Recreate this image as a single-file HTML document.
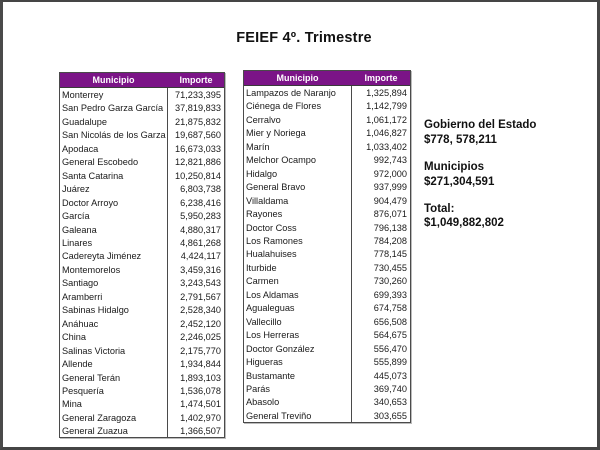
<!DOCTYPE html>
<html>
<head>
<meta charset="utf-8">
<style>
  html,body{margin:0;padding:0;}
  body{width:600px;height:450px;position:relative;overflow:hidden;background:#fff;font-family:"Liberation Sans",Arial,sans-serif;}
  .frame{position:absolute;left:0;top:0;width:600px;height:450px;box-sizing:border-box;border-top:2px solid #454545;border-left:3px solid #4a4a4a;border-right:3px solid #454545;border-bottom:3px solid #454545;}
  .title{position:absolute;left:204px;top:29px;width:200px;text-align:center;font-weight:bold;font-size:14.5px;letter-spacing:0.2px;color:#111;line-height:18px;}
  .tbl{position:absolute;border:1px solid #4a4a4a;box-shadow:1px 1px 0 #bbb;background:#fff;}
  .hdr{position:relative;height:14px;background:#7b1487;border-bottom:1px solid #3a3a3a;color:#fff;font-weight:bold;font-size:9px;line-height:14px;}
  .hdr span{position:absolute;top:0;text-align:center;}
  .div{position:absolute;top:0;bottom:0;width:1px;background:#4a4a4a;}
  .row{position:relative;height:13.46px;font-size:9.2px;line-height:13.46px;color:#1a1a1a;white-space:nowrap;}
  .row .n{position:absolute;left:2px;top:1px;}
  .row .v{position:absolute;top:1px;text-align:right;}
  .side{position:absolute;left:424px;font-weight:bold;font-size:11.5px;line-height:14px;color:#111;white-space:nowrap;}
</style>
</head>
<body>
<div class="frame"></div>
<div class="title">FEIEF 4º. Trimestre</div>

<!-- Left table -->
<div class="tbl" style="left:59px;top:72px;width:164px;height:364px;">
  <div class="div" style="left:107px;"></div>
  <div class="hdr"><span style="left:0;width:107px;">Municipio</span><span style="left:108px;width:56px;">Importe</span></div>
  <div class="row"><span class="n">Monterrey</span><span class="v" style="right:3px;">71,233,395</span></div>
  <div class="row"><span class="n">San Pedro Garza García</span><span class="v" style="right:3px;">37,819,833</span></div>
  <div class="row"><span class="n">Guadalupe</span><span class="v" style="right:3px;">21,875,832</span></div>
  <div class="row"><span class="n">San Nicolás de los Garza</span><span class="v" style="right:3px;">19,687,560</span></div>
  <div class="row"><span class="n">Apodaca</span><span class="v" style="right:3px;">16,673,033</span></div>
  <div class="row"><span class="n">General Escobedo</span><span class="v" style="right:3px;">12,821,886</span></div>
  <div class="row"><span class="n">Santa Catarina</span><span class="v" style="right:3px;">10,250,814</span></div>
  <div class="row"><span class="n">Juárez</span><span class="v" style="right:3px;">6,803,738</span></div>
  <div class="row"><span class="n">Doctor Arroyo</span><span class="v" style="right:3px;">6,238,416</span></div>
  <div class="row"><span class="n">García</span><span class="v" style="right:3px;">5,950,283</span></div>
  <div class="row"><span class="n">Galeana</span><span class="v" style="right:3px;">4,880,317</span></div>
  <div class="row"><span class="n">Linares</span><span class="v" style="right:3px;">4,861,268</span></div>
  <div class="row"><span class="n">Cadereyta Jiménez</span><span class="v" style="right:3px;">4,424,117</span></div>
  <div class="row"><span class="n">Montemorelos</span><span class="v" style="right:3px;">3,459,316</span></div>
  <div class="row"><span class="n">Santiago</span><span class="v" style="right:3px;">3,243,543</span></div>
  <div class="row"><span class="n">Aramberri</span><span class="v" style="right:3px;">2,791,567</span></div>
  <div class="row"><span class="n">Sabinas Hidalgo</span><span class="v" style="right:3px;">2,528,340</span></div>
  <div class="row"><span class="n">Anáhuac</span><span class="v" style="right:3px;">2,452,120</span></div>
  <div class="row"><span class="n">China</span><span class="v" style="right:3px;">2,246,025</span></div>
  <div class="row"><span class="n">Salinas Victoria</span><span class="v" style="right:3px;">2,175,770</span></div>
  <div class="row"><span class="n">Allende</span><span class="v" style="right:3px;">1,934,844</span></div>
  <div class="row"><span class="n">General Terán</span><span class="v" style="right:3px;">1,893,103</span></div>
  <div class="row"><span class="n">Pesquería</span><span class="v" style="right:3px;">1,536,078</span></div>
  <div class="row"><span class="n">Mina</span><span class="v" style="right:3px;">1,474,501</span></div>
  <div class="row"><span class="n">General Zaragoza</span><span class="v" style="right:3px;">1,402,970</span></div>
  <div class="row"><span class="n">General Zuazua</span><span class="v" style="right:3px;">1,366,507</span></div>
</div>

<!-- Right table -->
<div class="tbl" style="left:243px;top:70px;width:166px;height:351px;">
  <div class="div" style="left:107px;"></div>
  <div class="hdr"><span style="left:0;width:107px;">Municipio</span><span style="left:108px;width:58px;">Importe</span></div>
  <div class="row"><span class="n">Lampazos de Naranjo</span><span class="v" style="right:3px;">1,325,894</span></div>
  <div class="row"><span class="n">Ciénega de Flores</span><span class="v" style="right:3px;">1,142,799</span></div>
  <div class="row"><span class="n">Cerralvo</span><span class="v" style="right:3px;">1,061,172</span></div>
  <div class="row"><span class="n">Mier y Noriega</span><span class="v" style="right:3px;">1,046,827</span></div>
  <div class="row"><span class="n">Marín</span><span class="v" style="right:3px;">1,033,402</span></div>
  <div class="row"><span class="n">Melchor Ocampo</span><span class="v" style="right:3px;">992,743</span></div>
  <div class="row"><span class="n">Hidalgo</span><span class="v" style="right:3px;">972,000</span></div>
  <div class="row"><span class="n">General Bravo</span><span class="v" style="right:3px;">937,999</span></div>
  <div class="row"><span class="n">Villaldama</span><span class="v" style="right:3px;">904,479</span></div>
  <div class="row"><span class="n">Rayones</span><span class="v" style="right:3px;">876,071</span></div>
  <div class="row"><span class="n">Doctor Coss</span><span class="v" style="right:3px;">796,138</span></div>
  <div class="row"><span class="n">Los Ramones</span><span class="v" style="right:3px;">784,208</span></div>
  <div class="row"><span class="n">Hualahuises</span><span class="v" style="right:3px;">778,145</span></div>
  <div class="row"><span class="n">Iturbide</span><span class="v" style="right:3px;">730,455</span></div>
  <div class="row"><span class="n">Carmen</span><span class="v" style="right:3px;">730,260</span></div>
  <div class="row"><span class="n">Los Aldamas</span><span class="v" style="right:3px;">699,393</span></div>
  <div class="row"><span class="n">Agualeguas</span><span class="v" style="right:3px;">674,758</span></div>
  <div class="row"><span class="n">Vallecillo</span><span class="v" style="right:3px;">656,508</span></div>
  <div class="row"><span class="n">Los Herreras</span><span class="v" style="right:3px;">564,675</span></div>
  <div class="row"><span class="n">Doctor González</span><span class="v" style="right:3px;">556,470</span></div>
  <div class="row"><span class="n">Higueras</span><span class="v" style="right:3px;">555,899</span></div>
  <div class="row"><span class="n">Bustamante</span><span class="v" style="right:3px;">445,073</span></div>
  <div class="row"><span class="n">Parás</span><span class="v" style="right:3px;">369,740</span></div>
  <div class="row"><span class="n">Abasolo</span><span class="v" style="right:3px;">340,653</span></div>
  <div class="row"><span class="n">General Treviño</span><span class="v" style="right:3px;">303,655</span></div>
</div>

<div class="side" style="top:118px;">Gobierno del Estado</div>
<div class="side" style="top:133px;">$778, 578,211</div>
<div class="side" style="top:160px;">Municipios</div>
<div class="side" style="top:175px;">$271,304,591</div>
<div class="side" style="top:202px;">Total:</div>
<div class="side" style="top:216px;">$1,049,882,802</div>
</body>
</html>
